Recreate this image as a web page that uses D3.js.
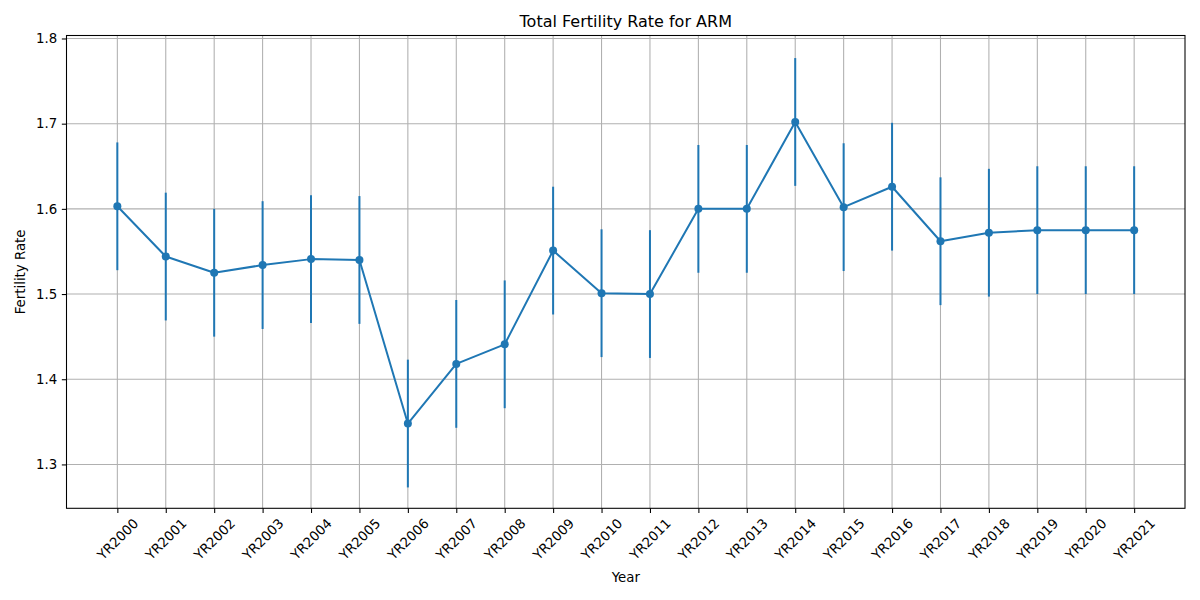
<!DOCTYPE html>
<html>
<head>
<meta charset="utf-8">
<script src="https://cdn.jsdelivr.net/npm/d3@7"></script>
<style>
  body { margin: 0; background: #fff; }
  text { font-family: "DejaVu Sans", sans-serif; fill: #000; }
</style>
</head>
<body>
<svg id="chart" width="1200" height="600"></svg>
<script>
var years = ["YR2000","YR2001","YR2002","YR2003","YR2004","YR2005","YR2006","YR2007",
             "YR2008","YR2009","YR2010","YR2011","YR2012","YR2013","YR2014","YR2015",
             "YR2016","YR2017","YR2018","YR2019","YR2020","YR2021"];
var rates = [1.603, 1.544, 1.525, 1.534, 1.541, 1.540, 1.348, 1.418,
             1.441, 1.551, 1.501, 1.500, 1.600, 1.600, 1.702, 1.602,
             1.626, 1.562, 1.572, 1.575, 1.575, 1.575];
var errors = [0.075, 0.075, 0.075, 0.075, 0.075, 0.075, 0.075, 0.075,
              0.075, 0.075, 0.075, 0.075, 0.075, 0.075, 0.075, 0.075,
              0.075, 0.075, 0.075, 0.075, 0.075, 0.075];
var yTicks = [1.3, 1.4, 1.5, 1.6, 1.7, 1.8];

var plotL = 66.5, plotR = 1185, plotT = 35.5, plotB = 508.3;
var blue = "#1f77b4";

var svg = d3.select("#chart");

var x = d3.scaleLinear().domain([-1.05, years.length - 1 + 1.05]).range([plotL, plotR]);
var y = d3.scaleLinear().domain([1.2485, 1.8035]).range([plotB, plotT]);

// grid
svg.append("g").selectAll("line").data(years).enter().append("line")
  .attr("x1", function(d, i) { return x(i); }).attr("x2", function(d, i) { return x(i); })
  .attr("y1", plotT).attr("y2", plotB)
  .attr("stroke", "#b0b0b0").attr("stroke-width", 1.07);
svg.append("g").selectAll("line").data(yTicks).enter().append("line")
  .attr("x1", plotL).attr("x2", plotR)
  .attr("y1", function(d) { return y(d); }).attr("y2", function(d) { return y(d); })
  .attr("stroke", "#b0b0b0").attr("stroke-width", 1.07);

// axes
var xAxis = d3.axisBottom(x).tickValues(d3.range(years.length))
  .tickFormat(function(i) { return years[i]; }).tickSize(4.67).tickPadding(4.67);
var gx = svg.append("g").attr("transform", "translate(0," + plotB + ")").call(xAxis);
gx.select(".domain").remove();
gx.selectAll(".tick line").attr("stroke", "#000").attr("stroke-width", 1.07);
gx.selectAll(".tick text")
  .attr("font-size", 13.33).attr("font-family", "DejaVu Sans")
  .attr("y", 0).attr("dy", null)
  .attr("text-anchor", "middle").attr("dominant-baseline", "central")
  .attr("transform", "translate(0,31) rotate(-45)");

var yAxis = d3.axisLeft(y).tickValues(yTicks).tickFormat(d3.format(".1f"))
  .tickSize(4.67).tickPadding(4.67);
var gy = svg.append("g").attr("transform", "translate(" + plotL + ",0)").call(yAxis);
gy.select(".domain").remove();
gy.selectAll(".tick line").attr("stroke", "#000").attr("stroke-width", 1.07);
gy.selectAll(".tick text").attr("font-size", 13.33).attr("font-family", "DejaVu Sans");

// error bars
svg.append("g").selectAll("line").data(rates).enter().append("line")
  .attr("x1", function(d, i) { return x(i); }).attr("x2", function(d, i) { return x(i); })
  .attr("y1", function(d, i) { return y(d - errors[i]); })
  .attr("y2", function(d, i) { return y(d + errors[i]); })
  .attr("stroke", blue).attr("stroke-width", 2);

// line + markers
var line = d3.line().x(function(d, i) { return x(i); }).y(function(d) { return y(d); });
svg.append("path").datum(rates).attr("d", line)
  .attr("fill", "none").attr("stroke", blue).attr("stroke-width", 2)
  .attr("stroke-linejoin", "round");
svg.append("g").selectAll("circle").data(rates).enter().append("circle")
  .attr("cx", function(d, i) { return x(i); }).attr("cy", function(d) { return y(d); })
  .attr("r", 4).attr("fill", blue);

// frame
svg.append("rect").attr("x", plotL).attr("y", plotT)
  .attr("width", plotR - plotL).attr("height", plotB - plotT)
  .attr("fill", "none").attr("stroke", "#000").attr("stroke-width", 1.07);

// labels
svg.append("text").attr("x", (plotL + plotR) / 2).attr("y", 27)
  .attr("text-anchor", "middle").attr("font-size", 16)
  .text("Total Fertility Rate for ARM");
svg.append("text").attr("x", (plotL + plotR) / 2).attr("y", 582)
  .attr("text-anchor", "middle").attr("font-size", 13.33).text("Year");
svg.append("text").attr("transform", "translate(25," + ((plotT + plotB) / 2) + ") rotate(-90)")
  .attr("text-anchor", "middle").attr("font-size", 13.33).text("Fertility Rate");
</script>
</body>
</html>
